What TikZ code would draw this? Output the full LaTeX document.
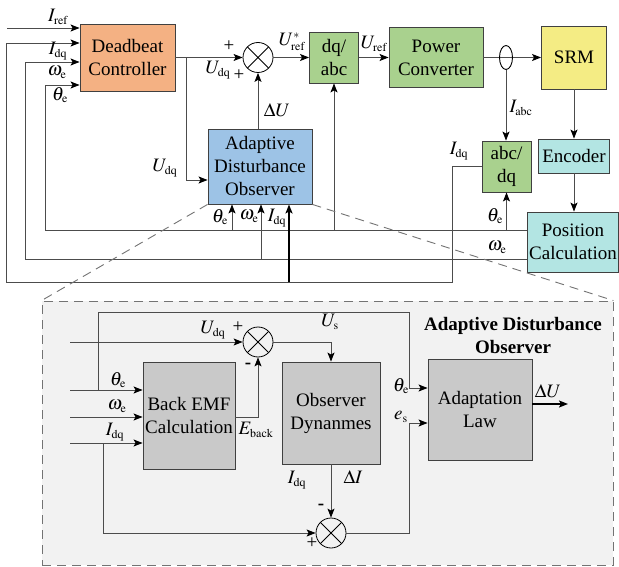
\documentclass[tikz,border=0pt]{standalone}
\usepackage{mathptmx}
\usepackage{fontspec}
\setmainfont{Liberation Serif}
\DeclareMathSizes{19}{19}{12}{9}
\usetikzlibrary{positioning,calc,arrows.meta,shapes.geometric}
\definecolor{dbfill}{HTML}{F4B183}
\definecolor{adofill}{HTML}{9DC3E6}
\definecolor{cvfill}{HTML}{A9D18E}
\definecolor{srmfill}{HTML}{F4EC84}
\definecolor{encfill}{HTML}{B3E5E3}
\definecolor{innerfill}{HTML}{C9C9C9}
\definecolor{panelfill}{HTML}{F2F2F2}
\newcommand{\dgfont}{\fontsize{19}{23}\selectfont}
\tikzset{x=1pt, y=-1pt}
\tikzset{blk/.style={draw=black!75, line width=0.9pt, align=center, inner sep=0pt, node font=\dgfont}}
\tikzset{lbl/.style={inner sep=0.5pt, node font=\dgfont}}
\tikzset{wire/.style={draw=black!70, line width=0.9pt}}
\tikzset{sig/.style={wire, -{Stealth[length=9pt, width=7pt, inset=2pt, color=black]}}}
\tikzset{sumjn/.style={circle, draw=black, line width=0.8pt, minimum size=30pt, inner sep=0pt,
    path picture={\draw[line width=0.8pt] (path picture bounding box.north west) -- (path picture bounding box.south east)
      (path picture bounding box.north east) -- (path picture bounding box.south west);}}}
\tikzset{zoomln/.style={draw=black!55, line width=0.9pt, dash pattern=on 9pt off 6pt}}

\begin{document}
\begin{tikzpicture}
\useasboundingbox (0,0) rectangle (619,567);
% observer detail panel
\node[zoomln, fill=panelfill, minimum width=571pt, minimum height=264pt, inner sep=0pt] (panel) at (327.5,433) {};

% upper loop
\node[blk, fill=dbfill, minimum width=95pt, minimum height=67pt] (dbc) at (127.5,57.5) {Deadbeat\\Controller};
\node[sumjn] (sumu) at (258,57.5) {};
\node[blk, fill=cvfill, minimum width=49pt, minimum height=51pt] (dqabc) at (334,57.5) {dq/\\abc};
\node[blk, fill=cvfill, minimum width=94pt, minimum height=60pt] (pc) at (436,57.5) {Power\\Converter};
\node[blk, fill=srmfill, minimum width=65pt, minimum height=63pt] (srm) at (574,57.5) {SRM};
\node[blk, fill=adofill, minimum width=104pt, minimum height=75pt] (ado) at (260,166.5) {Adaptive\\Disturbance\\Observer};
\node[blk, fill=cvfill, minimum width=49pt, minimum height=51pt] (abcdq) at (506.5,166.5) {abc/\\dq};
\node[blk, fill=encfill, minimum width=71pt, minimum height=34pt] (enc) at (574,156) {Encoder};
\node[blk, fill=encfill, minimum width=91pt, minimum height=60pt] (pos) at (573,242) {Position\\Calculation};

\coordinate (irefin) at (7,28);
\coordinate (udqsplit) at (186,57.5);
\draw[sig] (irefin) -- (irefin -| dbc.west);
\draw[sig] (abcdq.west) -| (452,282) -| (6,43) -- (dbc.west |- 0,43);
\draw[sig] (pos.west |- 0,259) -| (25,62) -- (dbc.west |- 0,62);
\draw[sig] (pos.west |- 0,230) -| (45,85) -- (dbc.west |- 0,85);
\draw[sig] (232,230) -- (232,0 |- ado.south);
\draw[sig] (261,259) -- (261,0 |- ado.south);
\draw[sig, draw=black, line width=2pt] (289,282) -- (289,0 |- ado.south);
\draw[sig] (dqabc.south |- 0,230) -- (dqabc.south);
\draw[sig] (abcdq.south |- 0,230) -- (abcdq.south);
\draw[sig] (dbc.east) -- (sumu.west);
\draw[sig] (udqsplit) |- (ado.west |- 0,180);
\draw[sig] (sumu.south |- ado.north) -- (sumu.south);
\draw[sig] (sumu.east) -- (dqabc.west);
\draw[sig] (dqabc.east) -- (pc.west);
\draw[sig] (pc.east) -- (srm.west);
\node[draw=black, line width=0.9pt, ellipse, minimum width=13pt, minimum height=24pt, inner sep=0pt] (ct) at (506,57.5) {};
\draw[sig] (ct.south) -- (ct.south |- abcdq.north);
\draw[sig] (srm.south) -- (srm.south |- enc.north);
\draw[sig] (enc.south) -- (enc.south |- pos.north);
\draw[zoomln] (ado.south west) -- (panel.north west);
\draw[zoomln] (ado.south east) -- (panel.north east);

\node[lbl] at (58,17) {$I_{\mathrm{ref}}$};
\node[lbl] at (58,51) {$I_{\mathrm{dq}}$};
\node[lbl] at (57,72) {$\omega_{\mathrm{e}}$};
\node[lbl] at (60,95) {$\theta_{\mathrm{e}}$};
\node[lbl] at (165,168) {$U_{\mathrm{dq}}$};
\node[lbl] at (229,46) {+};
\node[lbl] at (218,70) {$U_{\mathrm{dq}}$};
\node[lbl] at (239,75) {+};
\node[lbl] at (277,110) {$\Delta U$};
\node[lbl] at (292,42) {$U^{*}_{\mathrm{ref}}$};
\node[lbl] at (374,44) {$U_{\mathrm{ref}}$};
\node[lbl] at (521,108) {$I_{\mathrm{abc}}$};
\node[lbl] at (459,151) {$I_{\mathrm{dq}}$};
\node[lbl] at (495,216) {$\theta_{\mathrm{e}}$};
\node[lbl] at (497,247) {$\omega_{\mathrm{e}}$};
\node[lbl] at (220,217) {$\theta_{\mathrm{e}}$};
\node[lbl] at (249,216) {$\omega_{\mathrm{e}}$};
\node[lbl] at (277,218) {$I_{\mathrm{dq}}$};

% inside the observer
\node[blk, fill=innerfill, minimum width=92pt, minimum height=107pt] (bemf) at (189,415.5) {Back EMF\\Calculation};
\node[blk, fill=innerfill, minimum width=98pt, minimum height=102pt] (obsd) at (331,413) {Observer\\Dynanmes};
\node[blk, fill=innerfill, minimum width=104pt, minimum height=101pt] (adlaw) at (480,409.5) {Adaptation\\Law};
\node[sumjn] (sumb) at (258,342) {};
\node[sumjn] (sumi) at (331,533) {};
\node[lbl, align=center, font=\bfseries] (adotitle) at (513,335) {Adaptive Disturbance\\Observer};

\coordinate (thin) at (70,390);
\coordinate (omin) at (70,417);
\coordinate (idin) at (70,443);
\coordinate (udin) at (70,342);
\coordinate (duout) at (568,404);
\draw[sig] (thin) -- (thin -| bemf.west);
\draw[sig] (omin) -- (omin -| bemf.west);
\draw[sig] (idin) -- (idin -| bemf.west);
\draw[sig] (udin) -- (sumb.west);
\draw[sig] (98,390) |- (409,312) |- (adlaw.west |- 0,388);
\draw[sig] (bemf.east |- 0,417) -| (sumb.south);
\draw[sig] (sumb.east) -| (obsd.north);
\draw[sig] (obsd.south) -- (sumi.north);
\draw[sig] (103,443) |- (sumi.west);
\draw[sig] (sumi.east) -| (409,423) -- (adlaw.west |- 0,423);
\draw[sig, draw=black, line width=2pt] (adlaw.east |- duout) -- (duout);

\node[lbl] at (213,330) {$U_{\mathrm{dq}}$};
\node[lbl] at (238,327) {+};
\node[lbl] at (118,380) {$\theta_{\mathrm{e}}$};
\node[lbl] at (117,406) {$\omega_{\mathrm{e}}$};
\node[lbl] at (115,432) {$I_{\mathrm{dq}}$};
\node[lbl] at (248,366) {\textbf{-}};
\node[lbl] at (256,430) {$E_{\mathrm{back}}$};
\node[lbl] at (330,322) {$U_{\mathrm{s}}$};
\node[lbl] at (297,480) {$I_{\mathrm{dq}}$};
\node[lbl] at (353,477) {$\Delta I$};
\node[lbl] at (321,507) {\textbf{-}};
\node[lbl] at (312,543) {+};
\node[lbl] at (401,386) {$\theta_{\mathrm{e}}$};
\node[lbl] at (401,417) {$e_{\mathrm{s}}$};
\node[lbl] at (548,391) {$\Delta U$};
\end{tikzpicture}
\end{document}
